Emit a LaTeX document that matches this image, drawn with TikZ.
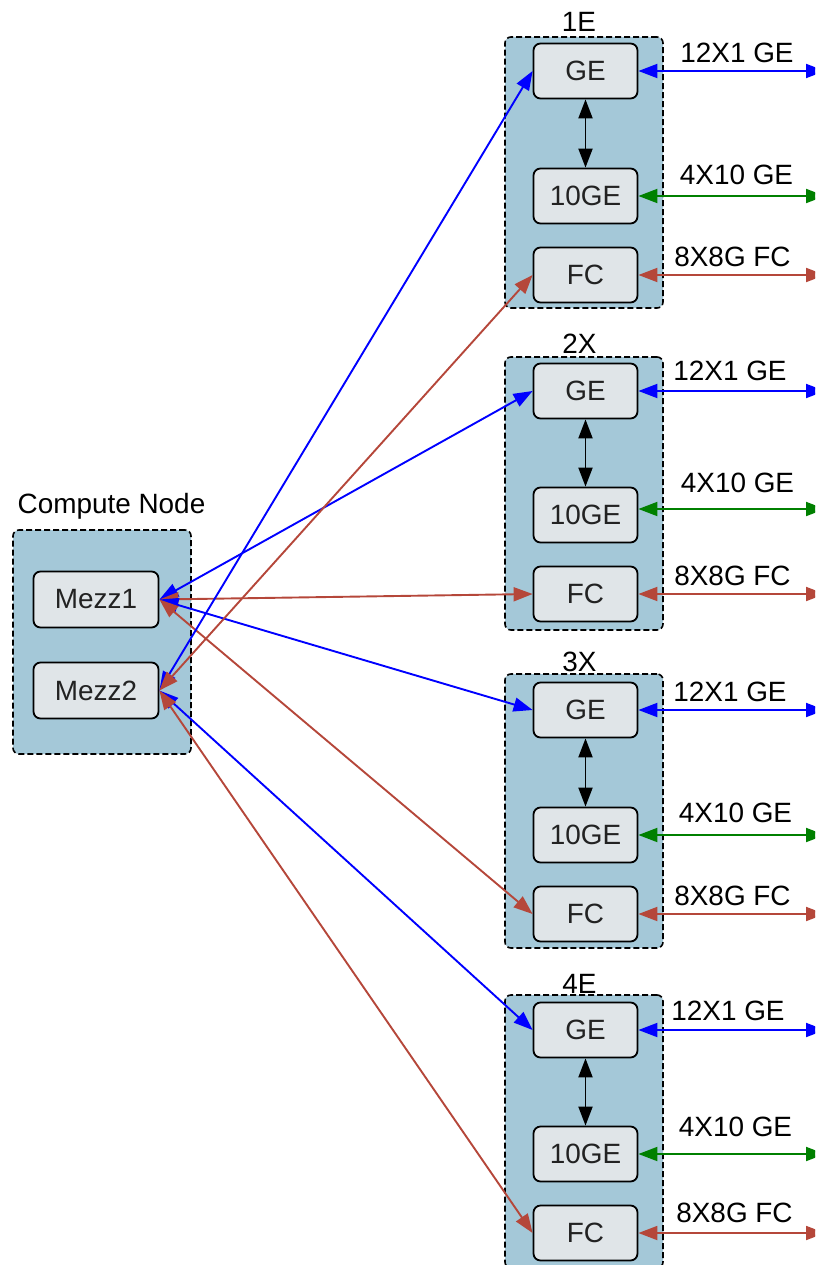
\documentclass[tikz,border=0pt]{standalone}
\usepackage{fontspec}
\setmainfont{Liberation Sans}
\usetikzlibrary{arrows.meta}
\definecolor{clfill}{RGB}{164,200,216}
\definecolor{ndfill}{RGB}{224,229,232}
\definecolor{fcred}{RGB}{181,71,58}
\definecolor{gegreen}{RGB}{0,128,0}
\definecolor{gelink}{RGB}{0,0,255}
\definecolor{txt}{RGB}{34,34,34}
\begin{document}
\begin{tikzpicture}[x=1pt,y=-1pt,
  font=\fontsize{27.9}{33}\selectfont,
  cluster/.style={draw=black, line width=1.6pt, dash pattern=on 6pt off 3pt, rounded corners=6pt, fill=clfill, inner sep=0pt},
  box/.style={draw=black, line width=1.8pt, rounded corners=7pt, fill=ndfill, text=txt, inner sep=0pt, minimum width=104pt, minimum height=55pt},
  mezz/.style={box, minimum width=125pt, minimum height=56pt},
  lbl/.style={anchor=base, inner sep=0pt, text=black},
  link/.style={line width=1.9pt, {Triangle[length=19pt,width=14pt]}-{Triangle[length=19pt,width=14pt]}},
  bl/.style={link, draw=gelink},
  gr/.style={link, draw=gegreen},
  rd/.style={link, draw=fcred},
  bk/.style={link, draw=black},
]
\useasboundingbox (0,0) rectangle (815,1265);
\clip (0,0) rectangle (815,1265);

% clusters
\node[cluster, minimum width=158pt, minimum height=271pt] (c1) at (584,172.5) {};
\node[cluster, minimum width=158pt, minimum height=273pt] (c2) at (584,493.5) {};
\node[cluster, minimum width=158pt, minimum height=274pt] (c3) at (584,811) {};
\node[cluster, minimum width=158pt, minimum height=273pt] (c4) at (584,1131.5) {};
\node[cluster, minimum width=178pt, minimum height=224pt] (cn) at (102,642) {};

% cluster labels
\node[lbl] (l1) at (579,32) {1E};
\node[lbl] (l2) at (579.5,353) {2X};
\node[lbl] (l3) at (579.5,671) {3X};
\node[lbl] (l4) at (579.5,993) {4E};
\node[lbl] (lcn) at (111.5,513) {Compute Node};

% compute node boxes
\node[mezz] (m1) at (96,599.5) {Mezz1};
\node[mezz] (m2) at (96,690.5) {Mezz2};

% switch boxes
\node[box] (ge1) at (585.5,71) {GE};
\node[box] (te1) at (585.5,196) {10GE};
\node[box] (fc1) at (585.5,275) {FC};
\node[box] (ge2) at (585.5,391) {GE};
\node[box] (te2) at (585.5,515) {10GE};
\node[box] (fc2) at (585.5,594) {FC};
\node[box] (ge3) at (585.5,710) {GE};
\node[box] (te3) at (585.5,835) {10GE};
\node[box] (fc3) at (585.5,914) {FC};
\node[box] (ge4) at (585.5,1030) {GE};
\node[box] (te4) at (585.5,1154) {10GE};
\node[box] (fc4) at (585.5,1233) {FC};

% outer ends
\coordinate (o1g) at (825,71);
\coordinate (o1t) at (825,196);
\coordinate (o1f) at (825,275);
\coordinate (o2g) at (825,391);
\coordinate (o2t) at (825,509);
\coordinate (o2f) at (825,594);
\coordinate (o3g) at (825,710);
\coordinate (o3t) at (825,835);
\coordinate (o3f) at (825,914);
\coordinate (o4g) at (825,1030);
\coordinate (o4t) at (825,1154);
\coordinate (o4f) at (825,1233);

% internal GE <-> 10GE
\draw[bk] (ge1) -- (te1);
\draw[bk] (ge2) -- (te2);
\draw[bk] (ge3) -- (te3);
\draw[bk] (ge4) -- (te4);

% outgoing links
\draw[bl] (ge1.east) -- (o1g);
\draw[gr] (te1.east) -- (o1t);
\draw[rd] (fc1.east) -- (o1f);
\draw[bl] (ge2.east) -- (o2g);
\draw[gr] ([yshift=6pt]te2.east) -- (o2t);
\draw[rd] (fc2.east) -- (o2f);
\draw[bl] (ge3.east) -- (o3g);
\draw[gr] (te3.east) -- (o3t);
\draw[rd] (fc3.east) -- (o3f);
\draw[bl] (ge4.east) -- (o4g);
\draw[gr] (te4.east) -- (o4t);
\draw[rd] (fc4.east) -- (o4f);

% link labels
\node[lbl] (a1) at (737,63) {12X1 GE};
\node[lbl] (b1) at (736.5,185) {4X10 GE};
\node[lbl] (f1) at (732.5,266) {8X8G FC};
\node[lbl] (a2) at (730,380) {12X1 GE};
\node[lbl] (b2) at (737.5,492) {4X10 GE};
\node[lbl] (f2) at (732.5,585) {8X8G FC};
\node[lbl] (a3) at (730,701) {12X1 GE};
\node[lbl] (b3) at (735.5,822) {4X10 GE};
\node[lbl] (f3) at (732.5,905) {8X8G FC};
\node[lbl] (a4) at (728,1020) {12X1 GE};
\node[lbl] (b4) at (735.5,1136) {4X10 GE};
\node[lbl] (f4) at (734.5,1222) {8X8G FC};

% compute node links
\draw[bl] (m1.east) -- (ge2.west);
\draw[rd] (m1.east) -- (fc2.west);
\draw[bl] (m1.east) -- (ge3.west);
\draw[rd] (m1.east) -- (fc3.west);
\draw[bl] (m2.east) -- (ge1.west);
\draw[rd] (m2.east) -- (fc1.west);
\draw[bl] (m2.east) -- (ge4.west);
\draw[rd] (m2.east) -- (fc4.west);
\end{tikzpicture}
\end{document}
